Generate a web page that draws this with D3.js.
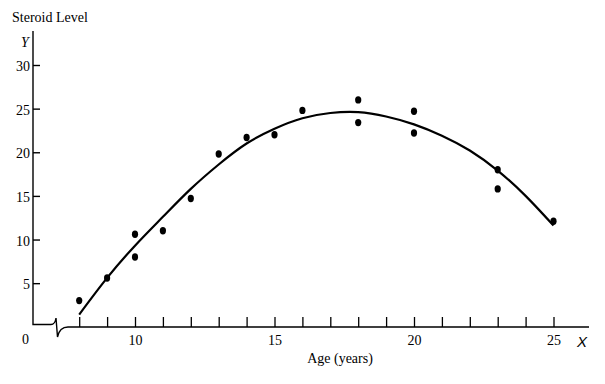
<!DOCTYPE html>
<html>
<head>
<meta charset="utf-8">
<script src="https://cdn.jsdelivr.net/npm/d3@7/dist/d3.min.js"></script>
<style>
  html, body { margin: 0; padding: 0; background: #fff; }
  svg { display: block; }
  text { font-family: "Liberation Serif", "DejaVu Serif", serif; fill: #000; }
</style>
</head>
<body>
<script>
// ---- data ----
const pointAges   = [8, 9, 10, 10, 11, 12, 13, 14, 15, 16, 18, 18, 20, 20, 23, 23, 25];
const pointLevels = [3.0, 5.6, 10.6, 8.0, 11.0, 14.7, 19.8, 21.7, 22.0, 24.8, 26.0, 23.4, 24.7, 22.2, 18.0, 15.8, 12.1];

const curveAges   = [8, 9, 10, 11, 12, 13, 14, 15, 16, 17, 18, 19, 20, 21, 22, 23, 24, 25];
const curveLevels = [1.4, 5.6, 9.3, 12.6, 15.8, 18.6, 21.0, 22.7, 23.9, 24.5, 24.6, 24.1, 23.2, 21.9, 20.2, 17.9, 15.0, 11.6];

const xTicks = [8, 9, 10, 11, 12, 13, 14, 15, 16, 17, 18, 19, 20, 21, 22, 23, 24, 25];
const xTickLabels = [10, 15, 20, 25];
const yTicks = [5, 10, 15, 20, 25, 30];

const W = 605, H = 384;
const svg = d3.select("body").append("svg").attr("width", W).attr("height", H);

const x = d3.scaleLinear().domain([10, 25]).range([135, 553.5]);
const y = d3.scaleLinear().domain([0, 30]).range([326.8, 65]);

// axes lines with break
const axisX0 = 33;
svg.append("path")
  .attr("d", `M${axisX0},31 V324.5 H51 Q55,324.5 56,318 L57.5,337 Q59.5,327 68,327 H589`)
  .attr("fill", "none").attr("stroke", "#000").attr("stroke-width", 1.4);

// y axis ticks
const yAxis = d3.axisLeft(y).tickValues(yTicks).tickSize(-7).tickPadding(3).tickFormat(d3.format("d"));
const gy = svg.append("g").attr("transform", `translate(${axisX0},0)`).call(yAxis);
gy.select(".domain").remove();
gy.selectAll("line").attr("stroke", "#000").attr("stroke-width", 1.4);
gy.selectAll("text").style("font-size", "14px").attr("font-family", null).attr("dy", "0.4em");

// x axis ticks
const xAxis = d3.axisBottom(x).tickValues(xTicks).tickSize(-10).tickPadding(8)
  .tickFormat(d => xTickLabels.includes(d) ? String(d) : "");
const gx = svg.append("g").attr("transform", `translate(0,327)`).call(xAxis);
gx.select(".domain").remove();
gx.selectAll("line").attr("stroke", "#000").attr("stroke-width", 1.3);
gx.selectAll("text").style("font-size", "14px").attr("font-family", null).attr("y", 8);

// labels
svg.append("text").attr("x", 12).attr("y", 22).style("font-size", "14px").text("Steroid Level");
svg.append("text").attr("x", 21).attr("y", 47).style("font-size", "14px").style("font-style", "italic").text("Y");
svg.append("text").attr("x", 22).attr("y", 344).style("font-size", "14px").text("0");
svg.append("text").attr("x", 577).attr("y", 347).style("font-size", "15px").style("font-style", "italic").style("font-family", "Liberation Sans, sans-serif").text("X");
svg.append("text").attr("x", 340).attr("y", 363).attr("text-anchor", "middle").style("font-size", "14px").text("Age (years)");

// fitted curve
const line = d3.line().x(d => x(d[0])).y(d => y(d[1])).curve(d3.curveNatural);
svg.append("path")
  .datum(curveAges.map((a, i) => [a, curveLevels[i]]))
  .attr("d", line)
  .attr("fill", "none").attr("stroke", "#000").attr("stroke-width", 2.2);

// points
svg.append("g").selectAll("ellipse")
  .data(pointAges.map((a, i) => [a, pointLevels[i]]))
  .join("ellipse")
  .attr("cx", d => x(d[0])).attr("cy", d => y(d[1]))
  .attr("rx", 3.1).attr("ry", 3.7).attr("fill", "#000");
</script>
</body>
</html>
